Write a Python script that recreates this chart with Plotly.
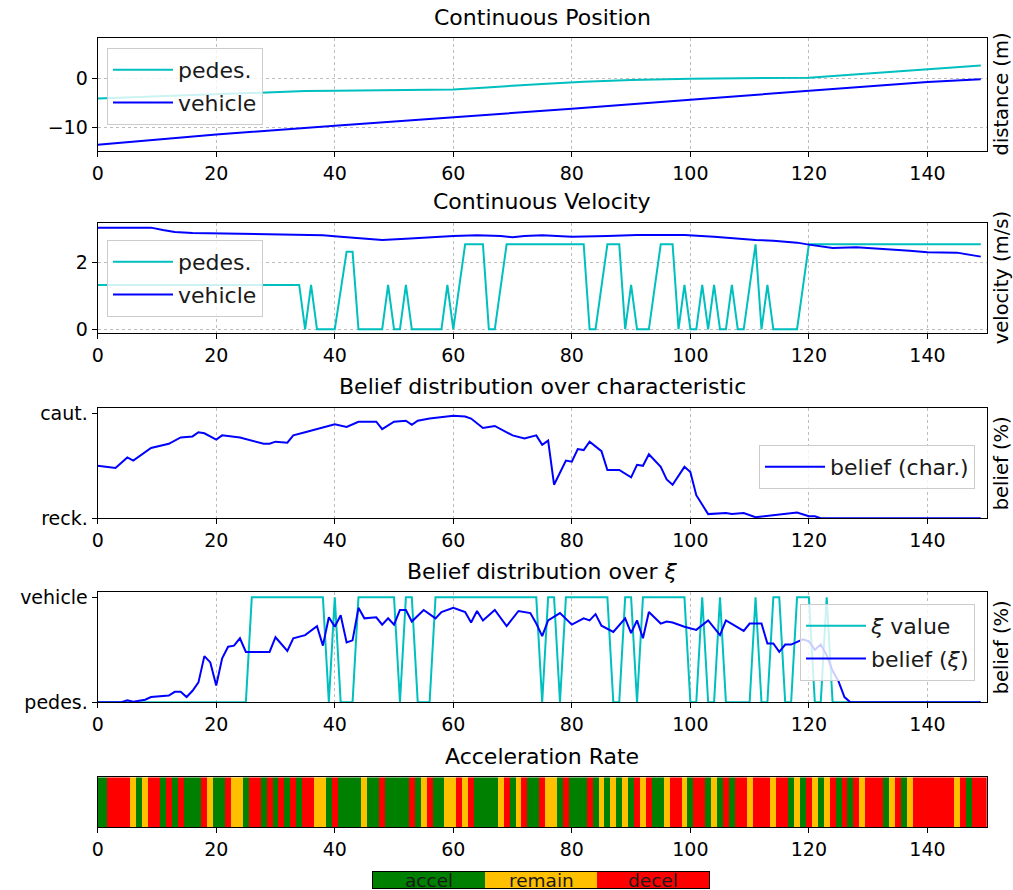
import plotly.graph_objects as go

# ---------------- data ----------------
X_TICKS = [0, 20, 40, 60, 80, 100, 120, 140]

# Continuous position (sampled readings)
PED_POS_X = [0, 10, 20, 30, 35, 40, 50, 60, 65, 70, 75, 82, 90, 100, 110, 120, 130, 140, 149]
PED_POS = [-4.1, -3.66, -3.22, -2.78, -2.6, -2.55, -2.42, -2.3, -1.9, -1.6, -1.15, -0.7, -0.35, -0.1, 0.0, 0.15, 1.0, 1.85, 2.65]
VEH_POS_X = [0, 20, 40, 60, 80, 100, 120, 140, 149]
VEH_POS = [-13.6, -11.5, -9.7, -8.0, -6.2, -4.35, -2.5, -0.75, -0.2]

# Continuous velocity
PED_VEL = [
    1.33, 1.33, 1.33, 1.33, 1.33, 1.33, 1.33, 1.33, 1.33, 1.33,
    1.33, 1.33, 1.33, 1.33, 1.33, 1.33, 1.33, 1.33, 1.33, 1.33,
    1.33, 1.33, 1.33, 1.33, 1.33, 1.33, 1.33, 1.33, 1.33, 1.33,
    1.33, 1.33, 1.33, 1.33, 1.33, 0.0, 1.33, 0.0, 0.0, 0.0,
    0.0, 1.17, 2.33, 2.33, 0.0, 0.0, 0.0, 0.0, 0.0, 1.33,
    0.0, 0.0, 1.33, 0.0, 0.0, 0.0, 0.0, 0.0, 0.0, 1.33,
    0.0, 1.28, 2.55, 2.55, 2.55, 2.55, 0.0, 0.0, 1.28, 2.55,
    2.55, 2.55, 2.55, 2.55, 2.55, 2.55, 2.55, 2.55, 2.55, 2.55,
    2.55, 2.55, 2.55, 0.0, 0.0, 1.28, 2.55, 2.55, 2.55, 0.0,
    1.33, 0.0, 0.0, 0.0, 1.28, 2.55, 2.55, 2.55, 0.0, 1.33,
    0.0, 0.0, 1.33, 0.0, 1.33, 0.0, 0.0, 1.33, 0.0, 0.0,
    1.28, 2.55, 0.0, 1.33, 0.0, 0.0, 0.0, 0.0, 0.0, 1.28,
    2.55, 2.55, 2.55, 2.55, 2.55, 2.55, 2.55, 2.55, 2.55, 2.55,
    2.55, 2.55, 2.55, 2.55, 2.55, 2.55, 2.55, 2.55, 2.55, 2.55,
    2.55, 2.55, 2.55, 2.55, 2.55, 2.55, 2.55, 2.55, 2.55, 2.55,
]
VEH_VEL_X = [0, 9, 11, 13, 16, 20, 25, 30, 34, 38, 41, 45, 48, 52, 56, 60, 64, 68, 70, 72,
             75, 80, 86, 91, 95, 99, 104, 108, 111, 114, 118, 120, 124, 128, 131, 134, 137, 140, 145, 149]
VEH_VEL = [3.05, 3.05, 2.98, 2.92, 2.89, 2.88, 2.87, 2.86, 2.85, 2.82, 2.78, 2.72, 2.68, 2.72, 2.77, 2.80, 2.82, 2.80, 2.76, 2.80,
           2.82, 2.78, 2.80, 2.83, 2.83, 2.83, 2.78, 2.72, 2.68, 2.66, 2.60, 2.54, 2.44, 2.46, 2.43, 2.40, 2.36, 2.31, 2.30, 2.18]

# Belief over characteristic (0 = reck., 1 = caut.)
BC_X = [0, 3, 5, 6, 9, 11, 12, 14, 16, 17, 18, 20, 21, 24, 28, 29, 30, 32, 33, 35, 37, 40, 42, 44, 47, 48,
        50, 52, 53, 54, 56, 60, 62, 63, 65, 67, 70, 72, 74, 75, 76, 77, 79, 80, 81, 82, 83, 85, 86, 88,
        90, 91, 92, 93, 95, 96, 97, 99, 100, 101, 103, 106, 107, 109, 111, 114, 118, 120, 121, 122, 149]
BC_Y = [0.50, 0.48, 0.58, 0.55, 0.67, 0.70, 0.71, 0.77, 0.78, 0.82, 0.81, 0.75, 0.79, 0.77, 0.71, 0.71, 0.73, 0.72, 0.79, 0.82, 0.85, 0.895, 0.87, 0.92, 0.92, 0.85,
        0.92, 0.93, 0.89, 0.93, 0.95, 0.977, 0.97, 0.95, 0.86, 0.88, 0.79, 0.76, 0.79, 0.70, 0.74, 0.32, 0.55, 0.54, 0.66, 0.65, 0.73, 0.64, 0.46, 0.46,
        0.39, 0.51, 0.50, 0.61, 0.49, 0.37, 0.32, 0.49, 0.44, 0.22, 0.04, 0.05, 0.04, 0.05, 0.01, 0.03, 0.055, 0.02, 0.02, 0.0, 0.0]

# xi value (0 = pedes., 1 = vehicle)
XI_VAL = [
    0, 0, 0, 0, 0, 0, 0, 0, 0, 0,
    0, 0, 0, 0, 0, 0, 0, 0, 0, 0,
    0, 0, 0, 0, 0, 0, 1, 1, 1, 1,
    1, 1, 1, 1, 1, 1, 1, 1, 1, 0,
    1, 0, 0, 0, 1, 1, 1, 1, 1, 1,
    1, 0, 1, 1, 0, 0, 0, 1, 1, 1,
    1, 1, 1, 1, 1, 1, 1, 1, 1, 1,
    1, 1, 1, 1, 1, 0, 1, 1, 0, 1,
    1, 1, 1, 1, 1, 1, 1, 0, 0, 1,
    1, 0, 1, 1, 1, 1, 1, 1, 1, 1,
    0, 0, 1, 0, 0, 1, 0, 0, 0, 0,
    0, 1, 0, 0, 1, 1, 0, 0, 1, 1,
    1, 0, 0, 1, 0, 0, 0, 0, 0, 0,
    0, 0, 0, 0, 0, 0, 0, 0, 0, 0,
    0, 0, 0, 0, 0, 0, 0, 0, 0, 0,
]
BX_X = [0, 4, 5, 6, 8, 9, 12, 13, 14, 15, 16, 17, 18, 19, 20, 21, 22, 23, 24, 25, 29, 30, 32, 33, 35, 37, 38, 39, 40, 41,
        42, 43, 44, 45, 47, 48, 49, 50, 51, 52, 53, 55, 57, 58, 60, 62, 63, 64, 65, 67, 69, 71, 73, 74, 75, 76, 78, 80,
        82, 83, 84, 85, 87, 89, 90, 91, 92, 93, 95, 96, 97, 99, 101, 103, 105, 106, 109, 110, 112, 113, 114, 115, 116,
        117, 119, 120, 121, 122, 123, 124, 125, 126, 127, 149]
BX_Y = [0.0, 0.0, 0.02, 0.005, 0.025, 0.05, 0.065, 0.1, 0.1, 0.05, 0.11, 0.19, 0.44, 0.38, 0.16, 0.42, 0.53, 0.54, 0.61, 0.48, 0.48, 0.62, 0.49, 0.61, 0.64, 0.725, 0.54, 0.81, 0.72, 0.83,
        0.57, 0.59, 0.90, 0.80, 0.81, 0.74, 0.80, 0.74, 0.88, 0.88, 0.77, 0.88, 0.80, 0.86, 0.90, 0.86, 0.76, 0.87, 0.78, 0.88, 0.725, 0.87, 0.85, 0.75, 0.63, 0.78, 0.85, 0.74,
        0.80, 0.78, 0.84, 0.73, 0.67, 0.80, 0.66, 0.78, 0.61, 0.86, 0.75, 0.77, 0.76, 0.72, 0.69, 0.78, 0.64, 0.78, 0.68, 0.75, 0.75, 0.56, 0.56, 0.48, 0.55,
        0.55, 0.60, 0.58, 0.50, 0.55, 0.45, 0.30, 0.20, 0.05, 0.0, 0.0]

# Acceleration rate per step: 0 = accel, 1 = remain, 2 = decel
ACCEL = [
    0, 0, 2, 2, 2, 2, 1, 0, 1, 2,
    2, 0, 2, 0, 2, 0, 0, 0, 2, 1,
    0, 0, 2, 1, 1, 0, 2, 2, 0, 2,
    0, 2, 0, 2, 0, 2, 2, 1, 1, 0,
    2, 0, 0, 0, 0, 1, 0, 0, 2, 0,
    0, 0, 0, 2, 0, 1, 2, 0, 0, 1,
    1, 2, 1, 2, 0, 0, 0, 0, 1, 2,
    0, 1, 2, 0, 0, 2, 1, 1, 0, 2,
    0, 0, 0, 2, 0, 1, 0, 1, 0, 1,
    0, 2, 1, 2, 0, 0, 1, 2, 2, 1,
    0, 2, 2, 0, 1, 0, 2, 0, 2, 2,
    1, 2, 2, 2, 1, 2, 2, 0, 1, 0,
    2, 1, 0, 1, 2, 0, 2, 0, 2, 1,
    2, 2, 2, 0, 1, 2, 0, 1, 2, 2,
    2, 2, 2, 2, 2, 1, 2, 0, 2, 2,
    2,
]
ACCEL_LABELS = ["accel", "remain", "decel"]

# ---------------- style ----------------
CYAN = "#00BFBF"
BLUE = "#0000FF"
GREEN = "#008000"
ORANGE = "#FFC000"
RED = "#FF0000"
FONT = "DejaVu Sans"
W, H = 1013, 890
LEFT, RIGHT = 97.7, 986.7
PANELS = [(38.3, 150.7), (223.3, 333.3), (408.3, 518.3), (592.3, 702.3), (777.3, 827.3)]


def ydom(top, bot):
    return [1 - bot / H, 1 - top / H]


XDOM = [LEFT / W, RIGHT / W]

fig = go.Figure()

steps = list(range(len(PED_VEL)))

fig.add_trace(go.Scatter(x=PED_POS_X, y=PED_POS, mode="lines", line=dict(color=CYAN, width=2),
                         name="pedes.", xaxis="x", yaxis="y", legend="legend", legendgroup="a"))
fig.add_trace(go.Scatter(x=VEH_POS_X, y=VEH_POS, mode="lines", line=dict(color=BLUE, width=2),
                         name="vehicle", xaxis="x", yaxis="y", legend="legend", legendgroup="b"))

fig.add_trace(go.Scatter(x=steps, y=PED_VEL, mode="lines", line=dict(color=CYAN, width=2),
                         name="pedes.", xaxis="x2", yaxis="y2", legend="legend2", legendgroup="c"))
fig.add_trace(go.Scatter(x=VEH_VEL_X, y=VEH_VEL, mode="lines", line=dict(color=BLUE, width=2),
                         name="vehicle", xaxis="x2", yaxis="y2", legend="legend2", legendgroup="d"))

fig.add_trace(go.Scatter(x=BC_X, y=BC_Y, mode="lines", line=dict(color=BLUE, width=2),
                         name="belief (char.)", xaxis="x3", yaxis="y3", legend="legend3"))

fig.add_trace(go.Scatter(x=steps, y=XI_VAL, mode="lines", line=dict(color=CYAN, width=2),
                         name="<i>ξ</i> value", xaxis="x4", yaxis="y4", legend="legend4", legendgroup="e"))
fig.add_trace(go.Scatter(x=BX_X, y=BX_Y, mode="lines", line=dict(color=BLUE, width=2),
                         name="belief (<i>ξ</i>)", xaxis="x4", yaxis="y4", legend="legend4", legendgroup="f"))

cscale = [[0, GREEN], [1 / 3, GREEN], [1 / 3, ORANGE], [2 / 3, ORANGE], [2 / 3, RED], [1, RED]]
fig.add_trace(go.Heatmap(z=[ACCEL], x=list(range(len(ACCEL))), y=[0], zmin=-0.5, zmax=2.5,
                         colorscale=cscale, showscale=False, xaxis="x5", yaxis="y5", hoverinfo="skip"))
fig.add_trace(go.Heatmap(z=[[0, 1, 2]], x=[0, 1, 2], y=[0], zmin=-0.5, zmax=2.5,
                         colorscale=cscale, showscale=False, xaxis="x6", yaxis="y6", hoverinfo="skip"))

axis_common = dict(showline=True, mirror=True, linecolor="black", linewidth=1.2,
                   ticks="outside", ticklen=5, tickcolor="black", zeroline=False, automargin=False,
                   tickfont=dict(family=FONT, size=19, color="black"))
grid = dict(showgrid=True, gridcolor="#bdbdbd", griddash="dot", gridwidth=1)

layout = dict(template="none", width=W, height=H, margin=dict(l=0, r=0, t=0, b=0, pad=0),
              paper_bgcolor="white", plot_bgcolor="white", showlegend=True,
              font=dict(family=FONT, color="black"))

for i in range(1, 6):
    top, bot = PANELS[i - 1]
    xk = "xaxis" if i == 1 else f"xaxis{i}"
    yk = "yaxis" if i == 1 else f"yaxis{i}"
    xa = dict(axis_common, domain=XDOM, range=[0, 150], tickvals=X_TICKS,
              anchor="y" if i == 1 else f"y{i}")
    if i < 5:
        xa.update(grid)
    else:
        xa["showgrid"] = False
    layout[xk] = xa
    layout[yk] = dict(axis_common, domain=ydom(top, bot), anchor="x" if i == 1 else f"x{i}")

layout["yaxis"].update(range=[-14.8, 8.2], tickvals=[-10, 0], ticktext=["−10", "0"], **grid)
layout["yaxis2"].update(range=[-0.12, 3.18], tickvals=[0, 2], ticktext=["0", "2"], **grid)
layout["yaxis3"].update(range=[0, 1.048], tickvals=[0, 1], ticktext=["reck.", "caut."], showgrid=False)
layout["yaxis4"].update(range=[0, 1.048], tickvals=[0, 1], ticktext=["pedes.", "vehicle"], showgrid=False)
layout["yaxis5"].update(range=[-0.5, 0.5], showticklabels=False, ticks="", showgrid=False)

# small colour key
layout["xaxis6"] = dict(domain=[373 / W, 709 / W], range=[-0.5, 2.5], anchor="y6", showline=True, mirror=True,
                        linecolor="black", linewidth=1, showticklabels=False, ticks="", showgrid=False,
                        zeroline=False, automargin=False)
layout["yaxis6"] = dict(domain=[1 - 888 / H, 1 - 872 / H], range=[-0.5, 0.5], anchor="x6", showline=True, mirror=True,
                        linecolor="black", linewidth=1, showticklabels=False, ticks="", showgrid=False,
                        zeroline=False, automargin=False)

leg_common = dict(bgcolor="rgba(255,255,255,0.8)", bordercolor="#cccccc", borderwidth=1,
                  font=dict(family=FONT, size=22, color="#1a1a1a"), tracegroupgap=1,
                  itemwidth=60)
layout["legend"] = dict(leg_common, x=107 / W, y=1 - 48 / H, xanchor="left", yanchor="top")
layout["legend2"] = dict(leg_common, x=107 / W, y=1 - 240 / H, xanchor="left", yanchor="top")
layout["legend3"] = dict(leg_common, x=975 / W, y=1 - 445 / H, xanchor="right", yanchor="top")
layout["legend4"] = dict(leg_common, x=975 / W, y=1 - 604 / H, xanchor="right", yanchor="top")

fig.update_layout(**layout)

titles = [("Continuous Position", 17), ("Continuous Velocity", 202),
          ("Belief distribution over characteristic", 387), ("Belief distribution over <i>ξ</i>", 571),
          ("Acceleration Rate", 756)]
xc = (LEFT + RIGHT) / 2 / W
for t, yp in titles:
    fig.add_annotation(text=t, x=xc, y=1 - yp / H, xref="paper", yref="paper", showarrow=False,
                       xanchor="center", yanchor="middle", font=dict(family=FONT, size=22, color="black"))

right_labels = [("distance (m)", 0), ("velocity (m/s)", 1), ("belief (%)", 2), ("belief (%)", 3)]
for t, idx in right_labels:
    top, bot = PANELS[idx]
    fig.add_annotation(text=t, x=1001 / W, y=1 - (top + bot) / 2 / H, xref="paper", yref="paper",
                       showarrow=False, textangle=-90, xanchor="center", yanchor="middle",
                       font=dict(family=FONT, size=19.5, color="black"))

for k, lab in enumerate(ACCEL_LABELS):
    fig.add_annotation(text=lab, x=k, y=0, xref="x6", yref="y6", showarrow=False,
                       font=dict(family=FONT, size=18.5, color="#1a1a1a"))

fig.write_html("out.html")
